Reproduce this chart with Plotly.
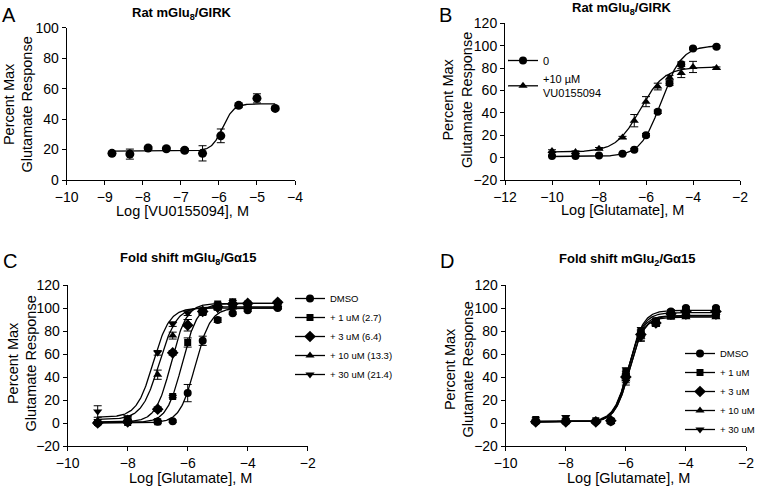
import numpy as np
import plotly.graph_objects as go

W, H = 757, 486
FONT = "Arial, Liberation Sans, sans-serif"

# ---------------- Data ----------------
# Panel A
a_x = [-8.81, -8.34, -7.86, -7.38, -6.90, -6.43, -5.95, -5.48, -5.00, -4.52]
a_y = [17.5, 17.0, 21.0, 20.5, 19.5, 17.5, 29.0, 49.0, 53.6, 47.0]
a_err = [1.0, 3.3, 1.0, 1.0, 1.0, 5.0, 4.5, 1.5, 3.0, 1.0]
a_fit = [19.0, 50.0, -5.9, 3.0]          # bottom, top, logEC50, hill

# Panel B
b_x = [-10, -9, -8, -7, -6.5, -6, -5.5, -5, -4.5, -4, -3]
b_ctrl = [1.5, 1.5, 2.0, 3.5, 7.0, 20.0, 41.0, 66.5, 83.5, 97.5, 99.0]
b_ctrl_err = [0.5, 0.5, 0.5, 0.5, 1.0, 1.5, 1.5, 2.0, 2.0, 1.0, 1.0]
b_vu = [6.0, 5.0, 8.0, 18.0, 33.0, 50.0, 63.5, 71.5, 75.5, 81.0, 80.0]
b_vu_err = [1.0, 1.0, 1.0, 1.0, 5.5, 4.5, 3.0, 2.0, 4.0, 5.0, 1.0]
b_ctrl_fit = [1.0, 100.0, -5.35, 1.0]
b_vu_fit = [5.0, 81.0, -6.25, 0.85]
b_names = ["0", "+10 µM<br>VU0155094"]

# Panel C
c_x = [-9, -8, -7, -6.5, -6, -5.5, -5, -4.5, -4, -3]
c_dmso = [0.0, 1.0, 1.0, 1.5, 26.0, 71.5, 89.5, 95.5, 98.0, 100.0]
c_1 = [0.5, 0.5, 1.0, 23.0, 70.0, 96.0, 103.5, 105.5, 103.5, 102.0]
c_3 = [0.0, 1.0, 12.0, 61.0, 85.0, 97.0, 101.0, 103.5, 104.0, 105.0]
c_10 = [2.0, 4.0, 42.0, 76.0, 87.0, 96.0, 100.0, 101.0, 101.0, 101.0]
c_30 = [10.0, 5.0, 61.0, 86.0, 95.5, 97.0, 99.0, 100.0, 100.0, 100.0]
c_dmso_err = [1, 1, 1, 1, 7.5, 4, 2, 1, 1, 1]
c_1_err = [1, 1, 1, 1, 4, 2, 1, 1, 1, 1]
c_3_err = [1, 1, 2, 2, 5, 2, 1, 1, 1, 1]
c_10_err = [1, 1, 4, 3, 3, 1, 1, 1, 1, 1]
c_30_err = [5, 1, 2, 2, 2, 1, 1, 1, 1, 1]
c_fits = [[0.0, 100.0, -5.75, 1.7],
          [0.5, 104.0, -6.18, 1.7],
          [1.0, 104.0, -6.55, 1.7],
          [3.0, 101.0, -6.95, 1.5],
          [5.0, 100.0, -7.15, 1.6]]
c_names = ["DMSO", "+ 1 uM (2.7)", "+ 3 uM (6.4)", "+ 10 uM (13.3)", "+ 30 uM (21.4)"]

# Panel D
d_x = [-9, -8, -7, -6.5, -6, -5.5, -5, -4.5, -4, -3]
d_dmso = [1.0, 1.0, 1.0, 1.0, 42.0, 78.0, 88.0, 97.0, 100.0, 100.0]
d_1 = [3.0, 2.0, 2.0, 2.0, 45.0, 80.0, 89.0, 93.0, 94.0, 94.0]
d_3 = [1.0, 1.0, 1.0, 2.0, 40.0, 77.0, 87.0, 95.0, 97.0, 97.0]
d_10 = [1.0, 2.0, 1.0, 1.0, 38.0, 75.0, 86.0, 92.0, 92.0, 92.0]
d_30 = [1.0, 5.0, 1.0, 2.0, 36.0, 74.0, 86.0, 93.0, 93.0, 93.0]
d_err = [1.5, 1.5, 1.0, 1.5, 3.0, 3.0, 2.0, 1.5, 1.0, 1.0]
d_fits = [[1.0, 98.0, -5.9, 1.8],
          [1.5, 93.5, -5.92, 1.8],
          [1.0, 96.0, -5.9, 1.8],
          [1.0, 92.0, -5.88, 1.8],
          [1.0, 93.0, -5.87, 1.8]]
d_names = ["DMSO", "+ 1 uM", "+ 3 uM", "+ 10 uM", "+ 30 uM"]

symbols = ["circle", "square", "diamond", "triangle-up", "triangle-down"]
sizes = [8, 7, 9, 8, 8]


def px(x):
    return x / W


def py(y):
    return 1 - y / H


def curve(xs, p):
    g = np.linspace(min(xs), max(xs), 300)
    b, t, c, h = p
    return g, b + (t - b) / (1 + 10 ** ((c - g) * h))


fig = go.Figure()


def add_series(xs, ys, err, sym, size, xa, ya, fit):
    gx, gy = curve(xs, fit)
    fig.add_trace(go.Scatter(x=gx, y=gy, mode="lines", line=dict(color="black", width=1.3),
                             xaxis=xa, yaxis=ya, showlegend=False, hoverinfo="skip"))
    fig.add_trace(go.Scatter(x=xs, y=ys, mode="markers",
                             marker=dict(symbol=sym, size=size, color="black"),
                             error_y=dict(type="data", array=err, visible=True, color="black",
                                          thickness=1, width=4),
                             xaxis=xa, yaxis=ya, showlegend=False))


def add_legend_item(name, sym, size, legend):
    fig.add_trace(go.Scatter(x=[None], y=[None], mode="lines+markers", name=name,
                             marker=dict(symbol=sym, size=size, color="black"),
                             line=dict(color="black", width=1.3),
                             legend=legend, showlegend=True, xaxis="x", yaxis="y"))


# Panel A
add_series(a_x, a_y, a_err, "circle", 9, "x", "y", a_fit)
# Panel B
add_series(b_x, b_ctrl, b_ctrl_err, "circle", 8, "x2", "y2", b_ctrl_fit)
add_series(b_x, b_vu, b_vu_err, "triangle-up", 8, "x2", "y2", b_vu_fit)
add_legend_item(b_names[0], "circle", 8, "legend")
add_legend_item(b_names[1], "triangle-up", 8, "legend")
# Panel C
c_sets = [c_dmso, c_1, c_3, c_10, c_30]
c_errs = [c_dmso_err, c_1_err, c_3_err, c_10_err, c_30_err]
for i in range(5):
    add_series(c_x, c_sets[i], c_errs[i], symbols[i], sizes[i], "x3", "y3", c_fits[i])
for i in range(5):
    add_legend_item(c_names[i], symbols[i], sizes[i], "legend2")
# Panel D
d_sets = [d_dmso, d_1, d_3, d_10, d_30]
for i in range(5):
    add_series(d_x, d_sets[i], d_err, symbols[i], sizes[i], "x4", "y4", d_fits[i])
for i in range(5):
    add_legend_item(d_names[i], symbols[i], sizes[i], "legend3")

axis_common = dict(showline=True, linecolor="black", linewidth=1, ticks="outside",
                   ticklen=4, tickwidth=1, tickcolor="black", showgrid=False, zeroline=False,
                   mirror=False, automargin=False,
                   tickfont=dict(family=FONT, size=14, color="black"))

fig.update_layout(
    width=W, height=H, margin=dict(l=0, r=0, t=0, b=0, autoexpand=False),
    paper_bgcolor="white", plot_bgcolor="white",
    font=dict(family=FONT, color="black"),
    xaxis=dict(domain=[px(66.7), px(295)], range=[-10, -4], dtick=1, anchor="y", **axis_common),
    yaxis=dict(domain=[py(180), py(27.7)], range=[0, 100], dtick=20, anchor="x", **axis_common),
    xaxis2=dict(domain=[px(505), px(740)], range=[-12, -2], dtick=2, anchor="y2", **axis_common),
    yaxis2=dict(domain=[py(180), py(23.3)], range=[-20, 120], dtick=20, anchor="x2", **axis_common),
    xaxis3=dict(domain=[px(67.7), px(307.7)], range=[-10, -2], dtick=2, anchor="y3", **axis_common),
    yaxis3=dict(domain=[py(446), py(285)], range=[-20, 120], dtick=20, anchor="x3", **axis_common),
    xaxis4=dict(domain=[px(505.7), px(746)], range=[-10, -2], dtick=2, anchor="y4", **axis_common),
    yaxis4=dict(domain=[py(446), py(285)], range=[-20, 120], dtick=20, anchor="x4", **axis_common),
    legend=dict(x=px(503), y=py(46), xanchor="left", yanchor="top", bgcolor="rgba(0,0,0,0)",
                font=dict(family=FONT, size=11, color="black")),
    legend2=dict(x=px(290), y=py(284), xanchor="left", yanchor="top", bgcolor="rgba(0,0,0,0)",
                 font=dict(family=FONT, size=9.5, color="black")),
    legend3=dict(x=px(680), y=py(339), xanchor="left", yanchor="top", bgcolor="rgba(0,0,0,0)",
                 font=dict(family=FONT, size=9.5, color="black")),
)

ann = []


def text(x, y, s, size, angle=0):
    ann.append(dict(x=px(x), y=py(y), xref="paper", yref="paper", text=s, showarrow=False,
                    xanchor="center", yanchor="middle", textangle=angle,
                    font=dict(family=FONT, size=size, color="black")))


# panel letters
text(9, 15, "A", 20)
text(446, 15, "B", 20)
text(10, 261, "C", 20)
text(447, 261, "D", 20)
# titles
text(182, 13, "<b>Rat mGlu<sub>8</sub>/GIRK</b>", 13)
text(622, 8, "<b>Rat mGlu<sub>8</sub>/GIRK</b>", 13)
text(188, 258, "<b>Fold shift mGlu<sub>8</sub>/Gα15</b>", 13)
text(627, 259, "<b>Fold shift mGlu<sub>2</sub>/Gα15</b>", 13)
# x titles
text(182, 211, "Log [VU0155094], M", 14.5)
text(622, 210, "Log [Glutamate], M", 14.5)
text(190, 478, "Log [Glutamate], M", 14.5)
text(628, 478, "Log [Glutamate], M", 14.5)
# y titles
ytitle = "Percent Max<br>Glutamate Response"
text(18.5, 105, ytitle, 14.5, -90)
text(458, 100, ytitle, 14.5, -90)
text(21.5, 364, ytitle, 14.5, -90)
text(458.5, 370, ytitle, 14.5, -90)

fig.update_layout(annotations=ann)
fig.write_html("out.html", config={"displayModeBar": False},
               post_script="document.body.style.margin='0px';")
